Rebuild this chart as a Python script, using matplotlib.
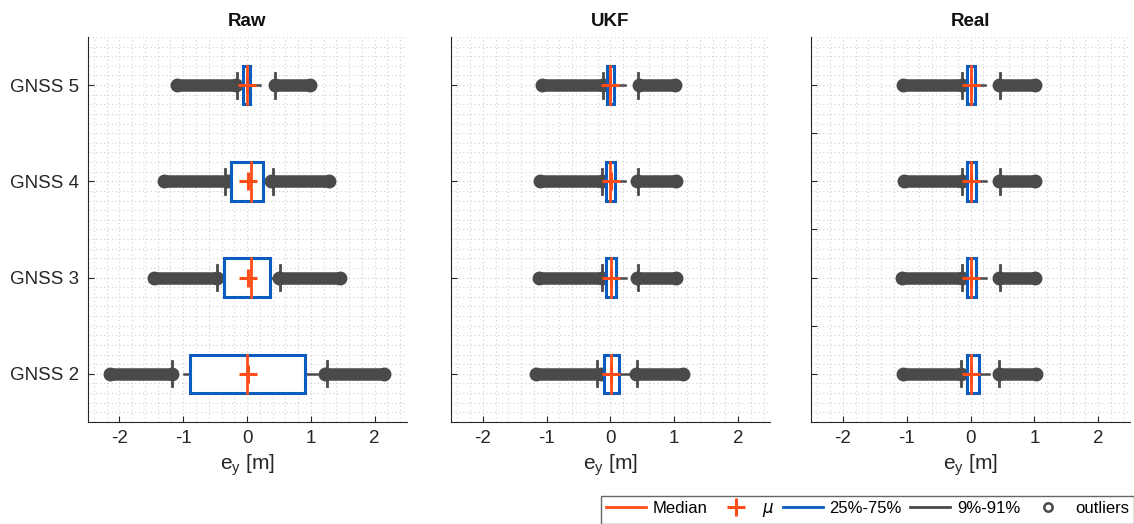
import matplotlib.pyplot as plt
from matplotlib.patches import Rectangle
from matplotlib.lines import Line2D
from matplotlib.ticker import MultipleLocator

plt.rcParams['font.family'] = ['Liberation Sans', 'DejaVu Sans']
plt.rcParams['axes.unicode_minus'] = False

panels = ['Raw', 'UKF', 'Real']
gnss = [2, 3, 4, 5]
gnss_labels = ['GNSS 2', 'GNSS 3', 'GNSS 4', 'GNSS 5']

# per panel, per GNSS (2,3,4,5)
q25 = [[-0.89, -0.36, -0.25, -0.07],
       [-0.10, -0.07, -0.07, -0.05],
       [-0.06, -0.05, -0.05, -0.05]]
q75 = [[0.91, 0.36, 0.25, 0.05],
       [0.13, 0.09, 0.07, 0.06],
       [0.13, 0.08, 0.08, 0.07]]
median = [[0.00, 0.06, 0.06, 0.00],
          [0.01, 0.01, 0.00, 0.00],
          [0.01, 0.01, 0.01, 0.01]]
mean = [[0.02, 0.02, 0.02, 0.00],
        [0.01, 0.01, 0.01, 0.00],
        [0.01, 0.01, 0.01, 0.01]]
# 9% / 91% caps
p9 = [[-1.17, -0.47, -0.34, -0.16],
      [-0.21, -0.14, -0.14, -0.12],
      [-0.15, -0.14, -0.14, -0.13]]
p91 = [[1.25, 0.52, 0.40, 0.44],
       [0.42, 0.43, 0.43, 0.43],
       [0.45, 0.46, 0.46, 0.46]]
# whisker line ends
w_lo = [[-0.99, -0.40, -0.27, -0.12],
        [-0.15, -0.10, -0.10, -0.08],
        [-0.10, -0.08, -0.08, -0.08]]
w_hi = [[1.09, 0.44, 0.31, 0.20],
        [0.30, 0.25, 0.23, 0.22],
        [0.29, 0.25, 0.25, 0.23]]
# outlier bands (centres of the extreme markers)
out_lo_min = [[-2.15, -1.46, -1.30, -1.10],
              [-1.17, -1.12, -1.11, -1.07],
              [-1.06, -1.07, -1.05, -1.06]]
out_lo_max = [[-1.17, -0.47, -0.30, -0.18],
              [-0.15, -0.14, -0.14, -0.12],
              [-0.15, -0.14, -0.14, -0.13]]
out_hi_min = [[1.22, 0.50, 0.38, 0.44],
              [0.40, 0.42, 0.42, 0.44],
              [0.44, 0.44, 0.44, 0.44]]
out_hi_max = [[2.15, 1.45, 1.29, 0.98],
              [1.14, 1.03, 1.02, 1.01],
              [1.02, 1.01, 1.01, 1.01]]

red = '#ff4d1a'
blue = '#0a5cbf'
gray = '#4a4a4a'
axc = '#262626'

fig = plt.figure(figsize=(11.34, 5.24), dpi=100)
lefts = [0.0772, 0.3977, 0.7152]

for p in range(3):
    ax = fig.add_axes([lefts[p], 0.1947, 0.2813, 0.7347])
    for i, g in enumerate(gnss):
        ax.plot([out_lo_min[p][i], out_lo_max[p][i]], [g, g], color=gray, lw=9,
                solid_capstyle='butt', marker='o', ms=9, mfc=gray, mec=gray, zorder=2)
        ax.plot([out_hi_min[p][i], out_hi_max[p][i]], [g, g], color=gray, lw=9,
                solid_capstyle='butt', marker='o', ms=9, mfc=gray, mec=gray, zorder=2)
        ax.plot([w_lo[p][i], q25[p][i]], [g, g], color=gray, lw=1.8, zorder=3)
        ax.plot([q75[p][i], w_hi[p][i]], [g, g], color=gray, lw=1.8, zorder=3)
        ax.plot([p9[p][i], p9[p][i]], [g - 0.13, g + 0.13], color=gray, lw=2, zorder=3)
        ax.plot([p91[p][i], p91[p][i]], [g - 0.13, g + 0.13], color=gray, lw=2, zorder=3)
        ax.add_patch(Rectangle((q25[p][i], g - 0.2), q75[p][i] - q25[p][i], 0.4,
                               facecolor='white', edgecolor=blue, lw=2.2, zorder=4))
        ax.plot([median[p][i], median[p][i]], [g - 0.2, g + 0.2], color=red, lw=2, zorder=5)
        ax.plot(mean[p][i], g, marker='+', color=red, ms=13, mew=2.2, zorder=6)

    ax.set_xlim(-2.5, 2.5)
    ax.set_ylim(1.5, 5.5)
    ax.set_xticks([-2, -1, 0, 1, 2])
    ax.xaxis.set_minor_locator(MultipleLocator(0.2))
    ax.yaxis.set_minor_locator(MultipleLocator(0.1))
    if p == 2:
        ax.set_yticks([2, 2.5, 3, 3.5, 4, 4.5, 5])
        ax.set_yticklabels([])
    else:
        ax.set_yticks(gnss)
        ax.set_yticklabels(gnss_labels if p == 0 else [])
    ax.grid(True, which='both', linestyle=(0, (1, 2.5)), color='#cfcfcf', lw=0.8)
    ax.set_axisbelow(True)
    ax.tick_params(which='major', direction='in', length=4, color=axc, labelcolor=axc,
                   labelsize=13.5, pad=6)
    ax.tick_params(which='minor', length=0)
    for s in ['top', 'right']:
        ax.spines[s].set_visible(False)
    for s in ['left', 'bottom']:
        ax.spines[s].set_color(axc)
    ax.set_title(panels[p], fontsize=13.5, fontweight='bold', color='#111111', pad=8)
    ax.set_xlabel('$\\mathregular{e_y}$ [m]', fontsize=15, color=axc, labelpad=4)

handles = [Line2D([], [], color=red, lw=2),
           Line2D([], [], color=red, marker='+', ls='none', ms=13, mew=2.2),
           Line2D([], [], color=blue, lw=2),
           Line2D([], [], color=gray, lw=2),
           Line2D([], [], color=gray, marker='o', ls='none', ms=6, mfc='white', mew=1.8)]
labels = ['Median', '$\\mu$', '25%-75%', '9%-91%', 'outliers']
leg = fig.legend(handles, labels, loc='lower right', bbox_to_anchor=(1.0, 0.0), ncol=5,
                 fontsize=12, frameon=True, fancybox=False, edgecolor='#404040',
                 handlelength=2.4, handletextpad=0.4, columnspacing=0.5,
                 borderpad=0.3, borderaxespad=0.0)
leg.get_frame().set_linewidth(1.0)

fig.savefig('out.png', dpi=100)
